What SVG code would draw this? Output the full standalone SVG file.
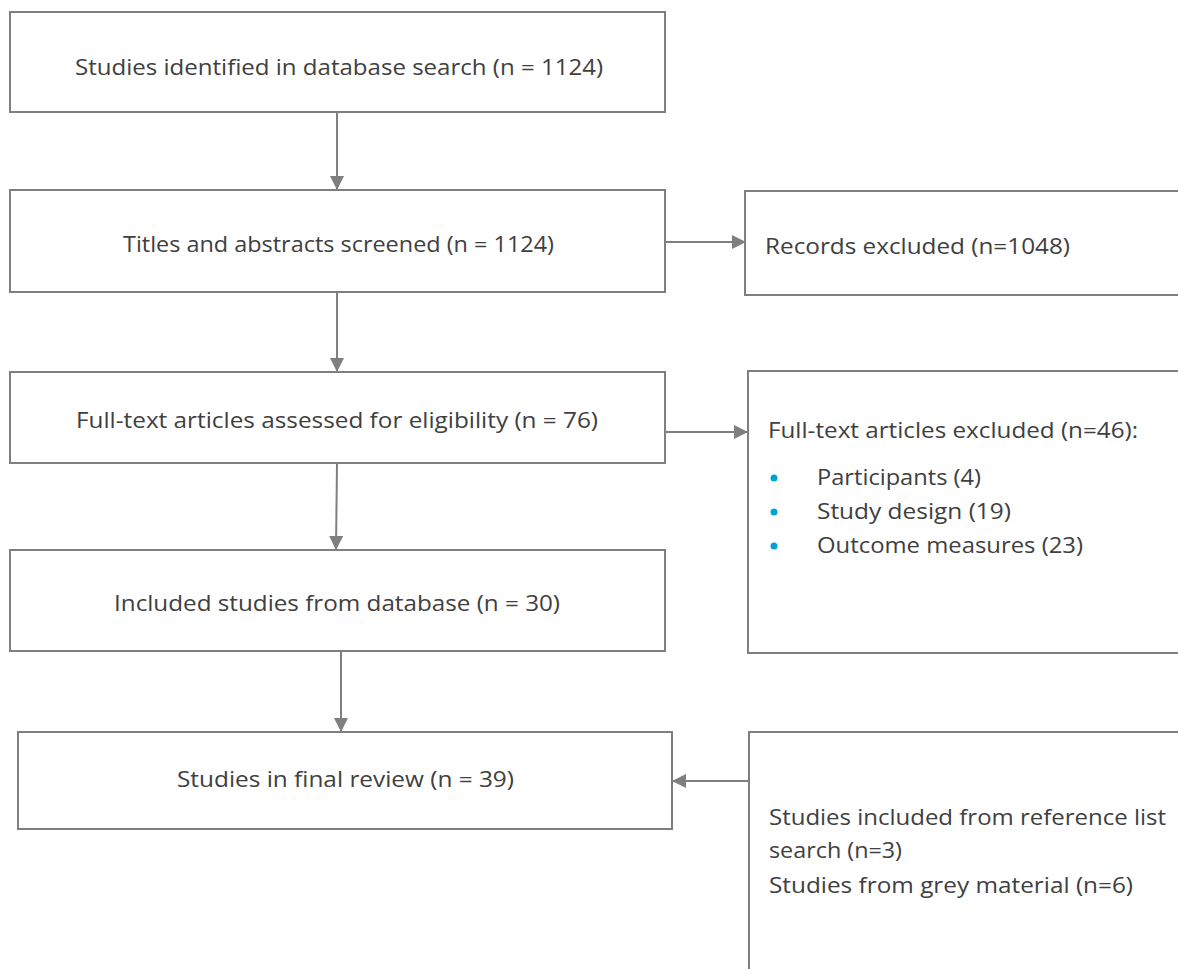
<svg xmlns="http://www.w3.org/2000/svg" width="1178" height="969" viewBox="0 0 1178 969">
<defs>
<style>
.box{fill:#fff;stroke:#7f7f7f;stroke-width:2}
.t{font-family:"Open Sans","Noto Sans","Liberation Sans",sans-serif;font-size:21px;fill:#404040}
.c{stroke:#7f7f7f;stroke-width:2;fill:none;marker-end:url(#ah)}
.b{fill:#00a0dc}
</style>
<marker id="ah" markerWidth="14" markerHeight="14" refX="13" refY="7" orient="auto" markerUnits="userSpaceOnUse" viewBox="0 0 14 14">
<path d="M0,0 L14,7 L0,14 Z" fill="#7f7f7f"/>
</marker>
</defs>
<rect width="1178" height="969" fill="#fff"/>
<g id="connectors">
<line x1="337" y1="113" x2="337" y2="189" class="c"/>
<line x1="666" y1="242" x2="745" y2="242" class="c"/>
<line x1="337" y1="293" x2="337" y2="371" class="c"/>
<line x1="666" y1="432" x2="747" y2="432" class="c"/>
<line x1="337" y1="464" x2="336" y2="549" class="c"/>
<line x1="341" y1="652" x2="341" y2="731" class="c"/>
<line x1="749" y1="781" x2="673" y2="781" class="c"/>
</g>
<g id="n1"><rect class="box" x="10" y="12" width="655" height="100"/><text class="t" x="75" y="75" textLength="528" lengthAdjust="spacingAndGlyphs">Studies identified in database search (n = 1124)</text></g>
<g id="n2"><rect class="box" x="10" y="190" width="655" height="102"/><text class="t" x="123" y="252" textLength="431" lengthAdjust="spacingAndGlyphs">Titles and abstracts screened (n = 1124)</text></g>
<g id="n3"><rect class="box" x="745" y="191" width="440" height="104"/><text class="t" x="765" y="254" textLength="305" lengthAdjust="spacingAndGlyphs">Records excluded (n=1048)</text></g>
<g id="n4"><rect class="box" x="10" y="372" width="655" height="91"/><text class="t" x="76" y="428" textLength="522" lengthAdjust="spacingAndGlyphs">Full-text articles assessed for eligibility (n = 76)</text></g>
<g id="n5"><rect class="box" x="748" y="371" width="440" height="282"/>
<text class="t" x="768" y="438" textLength="370" lengthAdjust="spacingAndGlyphs">Full-text articles excluded (n=46):</text>
<circle class="b" cx="774" cy="478" r="3.5"/><text class="t" x="817" y="485" textLength="164" lengthAdjust="spacingAndGlyphs">Participants (4)</text>
<circle class="b" cx="774" cy="512" r="3.5"/><text class="t" x="817" y="519" textLength="194" lengthAdjust="spacingAndGlyphs">Study design (19)</text>
<circle class="b" cx="774" cy="546" r="3.5"/><text class="t" x="817" y="553" textLength="266" lengthAdjust="spacingAndGlyphs">Outcome measures (23)</text>
</g>
<g id="n6"><rect class="box" x="10" y="550" width="655" height="101"/><text class="t" x="114" y="611" textLength="446" lengthAdjust="spacingAndGlyphs">Included studies from database (n = 30)</text></g>
<g id="n7"><rect class="box" x="18" y="732" width="654" height="97"/><text class="t" x="177" y="787" textLength="337" lengthAdjust="spacingAndGlyphs">Studies in final review (n = 39)</text></g>
<g id="n8"><rect class="box" x="749" y="732" width="440" height="260"/>
<text class="t" x="769" y="825" textLength="397" lengthAdjust="spacingAndGlyphs">Studies included from reference list</text>
<text class="t" x="769" y="858" textLength="133" lengthAdjust="spacingAndGlyphs">search (n=3)</text>
<text class="t" x="769" y="893" textLength="364" lengthAdjust="spacingAndGlyphs">Studies from grey material (n=6)</text>
</g>
</svg>
